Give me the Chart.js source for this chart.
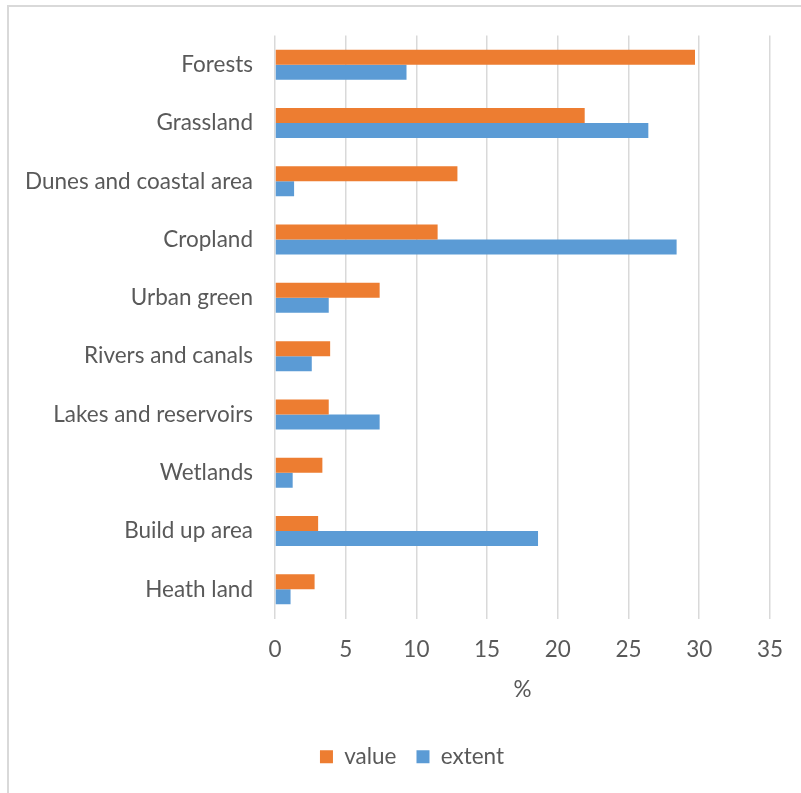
<!DOCTYPE html>
<html>
<head>
<meta charset="utf-8">
<script src="https://cdn.jsdelivr.net/npm/chart.js@4"></script>
<style>
  html, body { margin: 0; padding: 0; background: #fff; overflow: hidden; }
  #frame { position: absolute; left: 7px; top: 5px; width: 900px; height: 900px;
           border-top: 2px solid #d9d9d9; border-left: 2px solid #d9d9d9; box-sizing: border-box; }
  #wrap { position: absolute; left: 0; top: 0; width: 801px; height: 793px; }
</style>
</head>
<body>
<div id="frame"></div>
<div id="wrap"><canvas id="c" width="801" height="793"></canvas></div>
<script>
const categories = ["Forests", "Grassland", "Dunes and coastal area", "Cropland", "Urban green",
  "Rivers and canals", "Lakes and reservoirs", "Wetlands", "Build up area", "Heath land"];
const valueSeries = [29.7, 21.9, 12.9, 11.5, 7.4, 3.9, 3.8, 3.35, 3.05, 2.8];
const extentSeries = [9.3, 26.4, 1.35, 28.4, 3.8, 2.6, 7.4, 1.25, 18.6, 1.1];
const xTicks = [0, 5, 10, 15, 20, 25, 30, 35];

const FONT = "Lato, 'Open Sans', sans-serif";
const GREY = "#595959";
const FS = 22.5;

const legendShift = {
  id: "legendShift",
  afterLayout(chart) { if (chart.legend) { chart.legend.left = 54; } }
};

new Chart(document.getElementById("c"), {
  type: "bar",
  data: {
    labels: categories,
    datasets: [
      { label: "value", data: valueSeries, backgroundColor: "#ED7D31",
        barPercentage: 1, categoryPercentage: 0.515 },
      { label: "extent", data: extentSeries, backgroundColor: "#5B9BD5",
        barPercentage: 1, categoryPercentage: 0.515 }
    ]
  },
  plugins: [legendShift],
  options: {
    indexAxis: "y",
    responsive: false,
    animation: false,
    layout: { padding: { top: 35, right: 31, left: 0, bottom: 15 } },
    plugins: {
      legend: {
        position: "bottom",
        labels: { font: { family: FONT, size: FS }, color: GREY, boxWidth: 13, boxHeight: 13, padding: 20 }
      },
      tooltip: { enabled: false }
    },
    scales: {
      x: {
        min: 0, max: 35,
        afterBuildTicks: (s) => { s.ticks = xTicks.map(v => ({ value: v })); },
        grid: { color: "#d9d9d9", lineWidth: 1.5, drawTicks: false },
        border: { display: false },
        ticks: { font: { family: FONT, size: FS }, color: GREY, padding: 18 },
        title: { display: true, text: "%", font: { family: FONT, size: FS }, color: GREY, padding: { top: 4, bottom: 22 } },
        afterFit: (s) => { s.height = 107; }
      },
      y: {
        grid: { display: false, drawTicks: false },
        border: { display: false },
        ticks: { font: { family: FONT, size: FS }, color: GREY, padding: 22, autoSkip: false },
        afterFit: (s) => { s.width = 275; }
      }
    }
  }
});
</script>
</body>
</html>
